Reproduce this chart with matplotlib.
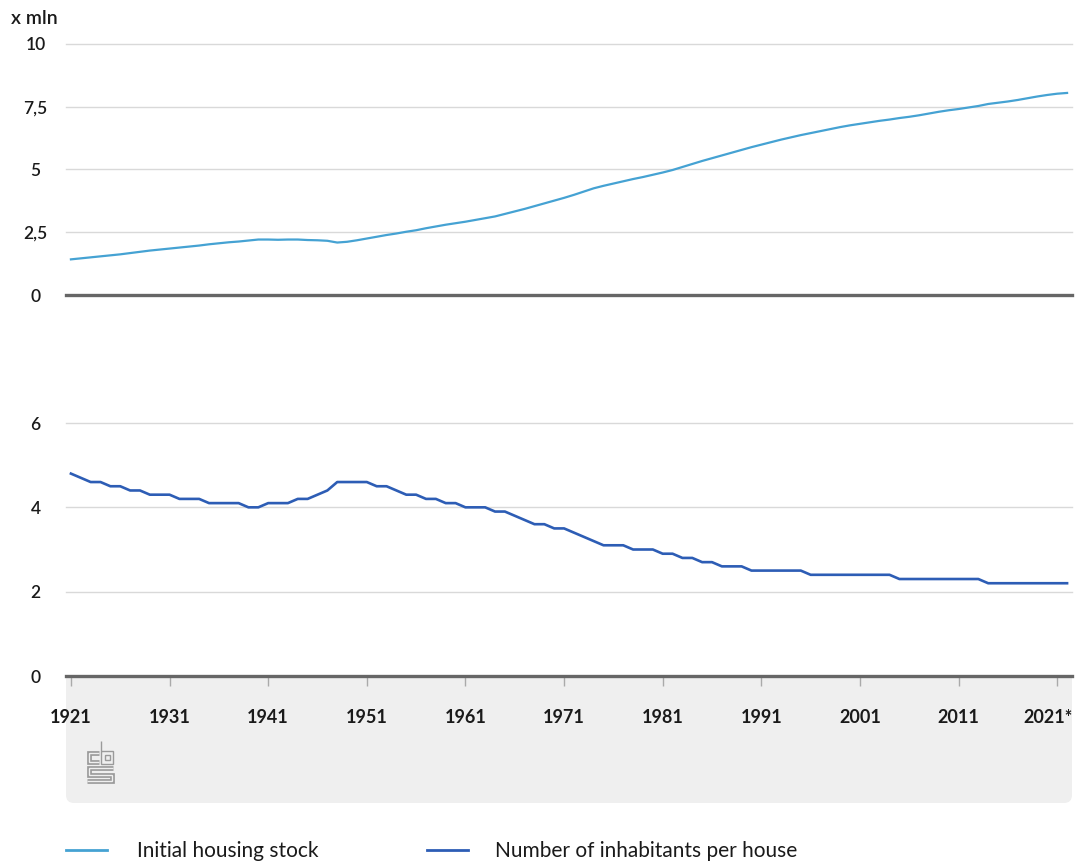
import numpy as np
import matplotlib.pyplot as plt
import matplotlib.transforms as mtransforms
from matplotlib.patches import FancyBboxPatch, Rectangle
from matplotlib.lines import Line2D

years = list(range(1921, 2023))

# x mln
housing_stock = [
    1.42, 1.46, 1.50, 1.54, 1.58, 1.62, 1.67, 1.72, 1.77, 1.81,
    1.85, 1.89, 1.93, 1.97, 2.02, 2.06, 2.10, 2.13, 2.17, 2.21,
    2.21, 2.20, 2.21, 2.21, 2.19, 2.18, 2.16, 2.09, 2.12, 2.18,
    2.25, 2.32, 2.39, 2.45, 2.52, 2.58, 2.66, 2.73, 2.80, 2.86,
    2.92, 2.99, 3.06, 3.13, 3.23, 3.33, 3.43, 3.54, 3.65, 3.76,
    3.87, 3.99, 4.12, 4.25, 4.35, 4.44, 4.53, 4.62, 4.70, 4.79,
    4.88, 4.98, 5.10, 5.22, 5.34, 5.45, 5.56, 5.67, 5.78, 5.89,
    5.99, 6.09, 6.19, 6.28, 6.37, 6.45, 6.53, 6.61, 6.69, 6.76,
    6.82, 6.88, 6.94, 6.99, 7.05, 7.10, 7.16, 7.23, 7.30, 7.36,
    7.41, 7.47, 7.53, 7.61, 7.66, 7.71, 7.77, 7.84, 7.91, 7.97,
    8.02, 8.05,
]

inhabitants = [
    4.8, 4.7, 4.6, 4.6, 4.5, 4.5, 4.4, 4.4, 4.3, 4.3,
    4.3, 4.2, 4.2, 4.2, 4.1, 4.1, 4.1, 4.1, 4.0, 4.0,
    4.1, 4.1, 4.1, 4.2, 4.2, 4.3, 4.4, 4.6, 4.6, 4.6,
    4.6, 4.5, 4.5, 4.4, 4.3, 4.3, 4.2, 4.2, 4.1, 4.1,
    4.0, 4.0, 4.0, 3.9, 3.9, 3.8, 3.7, 3.6, 3.6, 3.5,
    3.5, 3.4, 3.3, 3.2, 3.1, 3.1, 3.1, 3.0, 3.0, 3.0,
    2.9, 2.9, 2.8, 2.8, 2.7, 2.7, 2.6, 2.6, 2.6, 2.5,
    2.5, 2.5, 2.5, 2.5, 2.5, 2.4, 2.4, 2.4, 2.4, 2.4,
    2.4, 2.4, 2.4, 2.4, 2.3, 2.3, 2.3, 2.3, 2.3, 2.3,
    2.3, 2.3, 2.3, 2.2, 2.2, 2.2, 2.2, 2.2, 2.2, 2.2,
    2.2, 2.2,
]

tick_years = [1921, 1931, 1941, 1951, 1961, 1971, 1981, 1991, 2001, 2011, 2021]
tick_labels = ['1921', '1931', '1941', '1951', '1961', '1971', '1981',
               '1991', '2001', '2011', '2021*']
top_ticks = [0, 2.5, 5, 7.5, 10]
top_labels = ['0', '2,5', '5', '7,5', '10']
bottom_ticks = [0, 2, 4, 6]

W, H = 1077, 863
LIGHT = '#45a2d3'
DARK = '#2d5db5'
GRID = '#d9d9d9'
ZERO = '#666666'
PANEL = '#efefef'
TEXT = '#1a1a1a'


def fx(px):
    return px / W


def fy(py):
    return 1 - py / H


def inch(px, py):
    # pixel coords from top-left -> inches from bottom-left
    return px / 100, (H - py) / 100


def style_axis(ax, ticks, labels):
    ax.set_xlim(1920.5, 2022.5)
    ax.set_yticks(ticks)
    ax.set_yticklabels(labels)
    for lab in ax.get_yticklabels():
        lab.set_horizontalalignment('center')
        lab.set_fontweight('semibold')
    ax.tick_params(axis='y', length=0, pad=22, labelsize=12.5, colors=TEXT)
    ax.grid(True, axis='y', color=GRID, linewidth=1)
    for gl in ax.yaxis.get_gridlines():
        gl.set_clip_on(False)
    for s in ax.spines.values():
        s.set_visible(False)
    ax.patch.set_alpha(0)
    ax.axhline(0, color=ZERO, linewidth=2.4, clip_on=False, zorder=3)


def logo_line(fig, pts, color, lw):
    xs, ys = zip(*[inch(px, py) for px, py in pts])
    fig.add_artist(Line2D(xs, ys, transform=fig.dpi_scale_trans, color=color,
                          linewidth=lw, solid_joinstyle='miter',
                          solid_capstyle='butt'))


def main():
    plt.rcParams['font.family'] = ['Lato', 'DejaVu Sans']
    fig = plt.figure(figsize=(W / 100, H / 100), dpi=100)

    left, width = fx(66), fx(1072) - fx(66)

    # grey footer panel under the bottom axis
    x0, y0 = inch(66, 803)
    x1, y1 = inch(1072, 676)
    fig.add_artist(FancyBboxPatch((x0, y0), x1 - x0, y1 - y0,
                                  boxstyle='round,pad=0,rounding_size=0.08',
                                  transform=fig.dpi_scale_trans,
                                  facecolor=PANEL, edgecolor='none', zorder=0))
    fig.add_artist(Rectangle((x0, y1 - 0.3), x1 - x0, 0.3,
                             transform=fig.dpi_scale_trans,
                             facecolor=PANEL, edgecolor='none', zorder=0))

    ax1 = fig.add_axes([left, fy(295), width, fy(44) - fy(295)])
    ax1.plot(years, housing_stock, color=LIGHT, linewidth=1.6, zorder=4)
    ax1.set_ylim(0, 10)
    style_axis(ax1, top_ticks, top_labels)
    ax1.set_xticks([])
    fig.text(fx(11), fy(18), 'x mln', fontsize=14, va='center', ha='left',
             color=TEXT, fontweight='semibold')

    ax2 = fig.add_axes([left, fy(676), width, fy(423) - fy(676)])
    ax2.plot(years, inhabitants, color=DARK, linewidth=1.9, zorder=4)
    ax2.set_ylim(0, 6)
    style_axis(ax2, bottom_ticks, [str(t) for t in bottom_ticks])
    ax2.set_xticks(tick_years)
    ax2.set_xticklabels(tick_labels)
    ax2.tick_params(axis='x', direction='out', length=7.5, width=1,
                    color='#aaaaaa', pad=16, labelsize=13, labelcolor=TEXT)
    xlabs = ax2.get_xticklabels()
    for lab in xlabs:
        lab.set_fontweight('bold')
    # last label is pushed left so it stays inside the panel
    xlabs[-1].set_horizontalalignment('right')
    xlabs[-1].set_transform(xlabs[-1].get_transform() + mtransforms.ScaledTranslation(
        15 / 100, 0, fig.dpi_scale_trans))

    # cbs logo, drawn as double outlines
    g = '#9a9a9a'
    c_path = [(99, 753), (88.5, 753), (88.5, 761.5), (99, 761.5)]
    s_path = [(113, 768), (88.5, 768), (88.5, 774.5), (111.5, 774.5),
              (111.5, 781), (87, 781)]
    for path in (c_path, s_path):
        logo_line(fig, path, g, 3.4)
        logo_line(fig, path, PANEL, 1.0)
    logo_line(fig, [(101.5, 741), (101.5, 751)], g, 1.0)
    logo_line(fig, [(101.5, 751), (113, 751), (113, 763.5), (101.5, 763.5),
                    (101.5, 751)], g, 1.0)
    logo_line(fig, [(105, 754.5), (110, 754.5), (110, 760), (105, 760),
                    (105, 754.5)], g, 1.0)

    # legend
    legend_items = [(66, LIGHT, 'Initial housing stock', 137),
                    (427, DARK, 'Number of inhabitants per house', 495)]
    for px, col, text, tx in legend_items:
        xs, ys = zip(*[inch(px, 850), inch(px + 41, 850)])
        fig.add_artist(Line2D(xs, ys, transform=fig.dpi_scale_trans,
                              color=col, linewidth=2))
        fig.text(fx(tx), fy(851), text, fontsize=15, va='center',
                 ha='left', color=TEXT)

    fig.savefig('out.png', dpi=100)


if __name__ == '__main__':
    main()
